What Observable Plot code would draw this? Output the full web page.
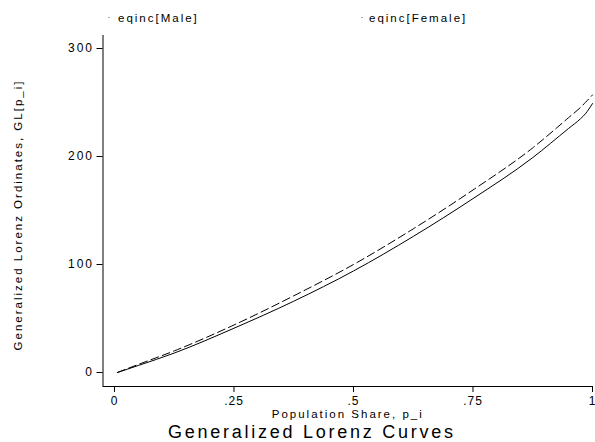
<!DOCTYPE html>
<html>
<head>
<meta charset="utf-8">
<script src="https://cdn.jsdelivr.net/npm/d3@7"></script>
<script src="https://cdn.jsdelivr.net/npm/@observablehq/plot@0.6"></script>
<style>
  html, body { margin: 0; padding: 0; background: #fff; }
  #wrap { position: relative; width: 595px; height: 442px; overflow: hidden;
          font-family: "Liberation Sans", Arial, Helvetica, sans-serif; color: #000; }
  #legend { position: relative; height: 28px; }
  .key { position: absolute; top: 17px; width: 2px; height: 1px; background: #aaa; }
  .lab { position: absolute; top: 13px; font-size: 11.5px; line-height: 1; letter-spacing: 2px; white-space: nowrap; }
  #title { position: absolute; top: 423px; left: 168px; font-size: 18px; line-height: 1; letter-spacing: 2.75px; white-space: nowrap; }
  #chart svg { display: block; overflow: visible; }
</style>
</head>
<body>
<div id="wrap">
  <div id="legend"></div>
  <div id="chart"></div>
  <div id="title"></div>
</div>
<script>
// ---- data ----
const pShare   = [0.006, 0.05, 0.125, 0.25, 0.375, 0.5, 0.625, 0.75, 0.875, 0.95, 0.975, 0.985, 1.0];
const maleGL   = [0,     6.5,  18,    41,   66,    94,  126,   161,  199,   226,  235,   239.5, 249];
const femaleGL = [0,     7.5,  20,    44,   71,    100, 133,   169,  208,   236,  245.5, 250,   257];
const seriesNames = ["eqinc[Male]", "eqinc[Female]"];
const yTicks = [0, 100, 200, 300];
const xTicks = [0, 0.25, 0.5, 0.75, 1];
const xTickLabels = ["0", ".25", ".5", ".75", "1"];
const xTitle = "Population Share, p_i";
const yTitle = "Generalized Lorenz Ordinates, GL[p_i]";
const chartTitle = "Generalized Lorenz Curves";
const xDomain = [-0.024, 1];
const yDomain = [-12.96, 312.04];

const maleData = pShare.map((p, i) => ({p, gl: maleGL[i]}));
const femaleData = pShare.map((p, i) => ({p, gl: femaleGL[i]}));

// legend
const legend = document.getElementById("legend");
const legendPos = [{key: 108, lab: 118}, {key: 361, lab: 369}];
seriesNames.forEach((name, i) => {
  const k = document.createElement("div");
  k.className = "key"; k.style.left = legendPos[i].key + "px";
  legend.appendChild(k);
  const l = document.createElement("div");
  l.className = "lab"; l.style.left = legendPos[i].lab + "px"; l.textContent = name;
  legend.appendChild(l);
});
document.getElementById("title").textContent = chartTitle;

const chart = Plot.plot({
  width: 595,
  height: 398,
  marginLeft: 102.5,
  marginRight: 3,
  marginTop: 7,
  marginBottom: 40,
  x: {domain: xDomain},
  y: {domain: yDomain},
  style: {fontFamily: "'Liberation Sans', Arial, Helvetica, sans-serif", fontSize: "12px", letterSpacing: "2px", color: "#000", background: "#fff", overflow: "visible"},
  marks: [
    Plot.axisY({ticks: yTicks, tickSize: 6, tickPadding: 3, label: null}),
    Plot.axisX({ticks: xTicks, tickFormat: d => xTickLabels[xTicks.indexOf(d)], tickSize: 6, tickPadding: 4, label: null}),
    Plot.ruleX([xDomain[0]], {stroke: "#000", strokeWidth: 1}),
    Plot.ruleY([yDomain[0]], {stroke: "#000", strokeWidth: 1}),
    Plot.line(maleData, {x: "p", y: "gl", stroke: "#000", strokeWidth: 1, curve: "monotone-x"}),
    Plot.line(femaleData, {x: "p", y: "gl", stroke: "#000", strokeWidth: 1, strokeDasharray: "8,4", curve: "monotone-x"}),
    Plot.text([xTitle], {text: d => d, frameAnchor: "bottom", dy: 31, fontSize: 11.5, textAnchor: "middle"}),
    Plot.text([yTitle], {text: d => d, frameAnchor: "left", textAnchor: "middle", rotate: -90, dx: -85, dy: 4, fontSize: 11.5})
  ]
});
d3.select(chart).selectAll('[aria-label="x-axis tick label"] text').style("letter-spacing", "1px");
document.getElementById("chart").appendChild(chart);
</script>
</body>
</html>
